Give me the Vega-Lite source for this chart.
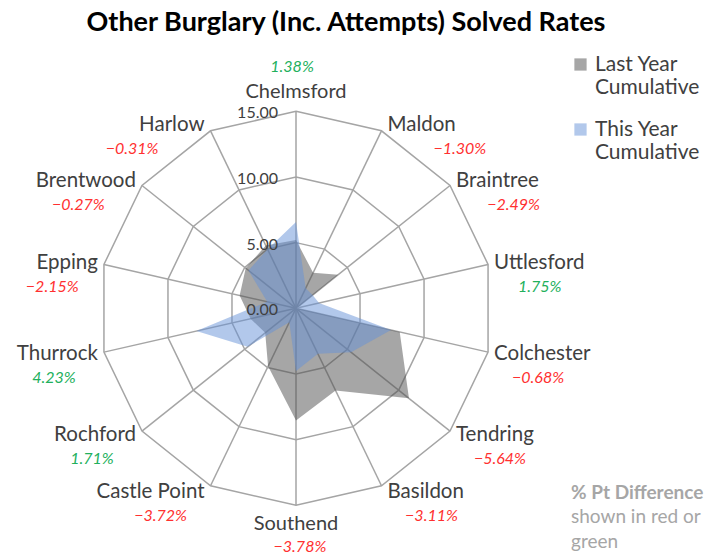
{
  "$schema": "https://vega.github.io/schema/vega-lite/v6.json",
  "width": 720,
  "height": 509,
  "autosize": {"type": "none"},
  "padding": {"top": 50, "left": 0, "right": 0, "bottom": 0},
  "background": "white",
  "config": {"view": {"stroke": null}, "font": "Lato"},
  "title": {"text": "Other Burglary (Inc. Attempts) Solved Rates", "fontSize": 27, "fontWeight": "bold", "font": "Lato", "color": "#000000", "anchor": "middle", "dx": -14, "offset": 13},
  "datasets": {
    "rates": [
      {"district": "Chelmsford", "Last Year Cumulative": 5.20, "This Year Cumulative": 6.58, "diff": 1.38},
      {"district": "Maldon", "Last Year Cumulative": 3.00, "This Year Cumulative": 1.70, "diff": -1.30},
      {"district": "Braintree", "Last Year Cumulative": 4.10, "This Year Cumulative": 1.61, "diff": -2.49},
      {"district": "Uttlesford", "Last Year Cumulative": 0.05, "This Year Cumulative": 1.80, "diff": 1.75},
      {"district": "Colchester", "Last Year Cumulative": 8.10, "This Year Cumulative": 7.42, "diff": -0.68},
      {"district": "Tendring", "Last Year Cumulative": 11.00, "This Year Cumulative": 5.36, "diff": -5.64},
      {"district": "Basildon", "Last Year Cumulative": 6.95, "This Year Cumulative": 3.84, "diff": -3.11},
      {"district": "Southend", "Last Year Cumulative": 8.55, "This Year Cumulative": 4.77, "diff": -3.78},
      {"district": "Castle Point", "Last Year Cumulative": 4.90, "This Year Cumulative": 1.18, "diff": -3.72},
      {"district": "Rochford", "Last Year Cumulative": 3.00, "This Year Cumulative": 4.71, "diff": 1.71},
      {"district": "Thurrock", "Last Year Cumulative": 3.55, "This Year Cumulative": 7.78, "diff": 4.23},
      {"district": "Epping", "Last Year Cumulative": 4.40, "This Year Cumulative": 2.25, "diff": -2.15},
      {"district": "Brentwood", "Last Year Cumulative": 4.90, "This Year Cumulative": 4.63, "diff": -0.27},
      {"district": "Harlow", "Last Year Cumulative": 5.30, "This Year Cumulative": 4.99, "diff": -0.31}
    ],
    "levels": [{"tick": 0}, {"tick": 5}, {"tick": 10}, {"tick": 15}]
  },
  "layer": [
    {
      "data": {"name": "rates"},
      "transform": [
        {"window": [{"op": "row_number", "as": "i"}]},
        {"calculate": "(datum.i - 1) * 2 * PI / 14", "as": "a"},
        {"calculate": "[5, 10, 15]", "as": "ring"},
        {"flatten": ["ring"]},
        {"calculate": "datum.ring * sin(datum.a)", "as": "gx"},
        {"calculate": "datum.ring * cos(datum.a)", "as": "gy"}
      ],
      "mark": {"type": "line", "interpolate": "linear-closed", "stroke": "#a5a5a5", "strokeWidth": 1.5},
      "encoding": {
        "x": {"field": "gx", "type": "quantitative", "scale": {"domain": [-22.539, 32.285], "nice": false, "zero": false}, "axis": null},
        "y": {"field": "gy", "type": "quantitative", "scale": {"domain": [-19.089, 19.668], "nice": false, "zero": false}, "axis": null},
        "detail": {"field": "ring", "type": "nominal"},
        "order": {"field": "i", "type": "quantitative"}
      }
    },
    {
      "data": {"name": "rates"},
      "transform": [
        {"window": [{"op": "row_number", "as": "i"}]},
        {"calculate": "(datum.i - 1) * 2 * PI / 14", "as": "a"},
        {"calculate": "0", "as": "zero"},
        {"calculate": "15 * sin(datum.a)", "as": "sx"},
        {"calculate": "15 * cos(datum.a)", "as": "sy"}
      ],
      "mark": {"type": "rule", "stroke": "#a5a5a5", "strokeWidth": 1.5},
      "encoding": {
        "x": {"field": "zero", "type": "quantitative"},
        "y": {"field": "zero", "type": "quantitative"},
        "x2": {"field": "sx"},
        "y2": {"field": "sy"}
      }
    },
    {
      "data": {"name": "rates"},
      "transform": [
        {"window": [{"op": "row_number", "as": "i"}]},
        {"calculate": "(datum.i - 1) * 2 * PI / 14", "as": "a"},
        {"fold": ["Last Year Cumulative", "This Year Cumulative"], "as": ["series", "rate"]},
        {"calculate": "datum.rate * sin(datum.a)", "as": "px"},
        {"calculate": "datum.rate * cos(datum.a)", "as": "py"}
      ],
      "mark": {"type": "line", "interpolate": "linear-closed", "filled": true, "strokeWidth": 0, "opacity": 1, "fillOpacity": 0.5},
      "encoding": {
        "x": {"field": "px", "type": "quantitative"},
        "y": {"field": "py", "type": "quantitative"},
        "order": {"field": "i", "type": "quantitative"},
        "color": {
          "field": "series", "type": "nominal",
          "scale": {"domain": ["Last Year Cumulative", "This Year Cumulative"], "range": ["#4d4d4d", "#6591d7"]},
          "legend": {"orient": "none", "legendX": 570, "legendY": 4, "title": null, "symbolType": "square", "symbolSize": 150, "symbolStrokeWidth": 0, "symbolOpacity": 0.5, "labelFontSize": 21, "labelFont": "Lato", "labelColor": "#404040", "labelLimit": 300, "rowPadding": 20, "labelExpr": "[substring(datum.label, 0, 9), substring(datum.label, 10)]"}
        }
      }
    },
    {
      "data": {"name": "levels"},
      "transform": [{"calculate": "0", "as": "zero"}],
      "mark": {"type": "text", "align": "right", "baseline": "middle", "dx": -18, "dy": 2, "fontSize": 16, "font": "Lato", "color": "#404040"},
      "encoding": {
        "x": {"field": "zero", "type": "quantitative"},
        "y": {"field": "tick", "type": "quantitative"},
        "text": {"field": "tick", "type": "quantitative", "format": ".2f"}
      }
    },
    {
      "data": {"name": "rates"},
      "transform": [
        {"window": [{"op": "row_number", "as": "i"}]},
        {"calculate": "(datum.i - 1) * 2 * PI / 14", "as": "a"},
        {"filter": "sin(datum.a) > 0.1"},
        {"calculate": "15 * sin(datum.a)", "as": "nx"},
        {"calculate": "15.53 * cos(datum.a)", "as": "ny"}
      ],
      "mark": {"type": "text", "align": "left", "baseline": "middle", "dx": 6, "fontSize": 20.5, "font": "Lato", "color": "#404040"},
      "encoding": {
        "x": {"field": "nx", "type": "quantitative"},
        "y": {"field": "ny", "type": "quantitative"},
        "text": {"field": "district", "type": "nominal"}
      }
    },
    {
      "data": {"name": "rates"},
      "transform": [
        {"window": [{"op": "row_number", "as": "i"}]},
        {"calculate": "(datum.i - 1) * 2 * PI / 14", "as": "a"},
        {"filter": "sin(datum.a) < -0.1"},
        {"calculate": "15 * sin(datum.a)", "as": "nx"},
        {"calculate": "15.53 * cos(datum.a)", "as": "ny"}
      ],
      "mark": {"type": "text", "align": "right", "baseline": "middle", "dx": -6, "fontSize": 20.5, "font": "Lato", "color": "#404040"},
      "encoding": {
        "x": {"field": "nx", "type": "quantitative"},
        "y": {"field": "ny", "type": "quantitative"},
        "text": {"field": "district", "type": "nominal"}
      }
    },
    {
      "data": {"name": "rates"},
      "transform": [
        {"window": [{"op": "row_number", "as": "i"}]},
        {"calculate": "(datum.i - 1) * 2 * PI / 14", "as": "a"},
        {"filter": "abs(sin(datum.a)) <= 0.1"},
        {"calculate": "0", "as": "nx"},
        {"calculate": "cos(datum.a) > 0 ? 16.45 : -16.4", "as": "ny"}
      ],
      "mark": {"type": "text", "align": "center", "baseline": "middle", "fontSize": 20, "font": "Lato", "color": "#404040"},
      "encoding": {
        "x": {"field": "nx", "type": "quantitative"},
        "y": {"field": "ny", "type": "quantitative"},
        "text": {"field": "district", "type": "nominal"}
      }
    },
    {
      "data": {"name": "rates"},
      "transform": [
        {"window": [{"op": "row_number", "as": "i"}]},
        {"calculate": "(datum.i - 1) * 2 * PI / 14", "as": "a"},
        {"calculate": "sin(datum.a)", "as": "s"},
        {"calculate": "cos(datum.a)", "as": "c"},
        {"calculate": "abs(datum.s) <= 0.1 ? -0.3 * datum.c : 15 * datum.s + (datum.s > 0 ? 1 : -1) * (50 + 35 * pow(max(0, datum.c), 2)) / 13.133", "as": "dxu"},
        {"calculate": "abs(datum.s) <= 0.1 ? (datum.c > 0 ? 18.4 : -18.2) : 15 * datum.c - (24 - 7 * datum.c) / 13.133", "as": "dyu"},
        {"calculate": "format(datum.diff, '.2f') + '%'", "as": "dtxt"},
        {"calculate": "datum.diff > 0 ? 'up' : 'down'", "as": "dir"}
      ],
      "mark": {"type": "text", "align": "center", "baseline": "middle", "fontSize": 16, "font": "Lato", "fontStyle": "italic"},
      "encoding": {
        "x": {"field": "dxu", "type": "quantitative"},
        "y": {"field": "dyu", "type": "quantitative"},
        "text": {"field": "dtxt", "type": "nominal"},
        "fill": {"field": "dir", "type": "nominal", "scale": {"domain": ["up", "down"], "range": ["#22b05c", "#ff3030"]}, "legend": null}
      }
    },
    {
      "data": {"values": [{"note": "% Pt Difference", "x": 20.94, "y": -14.06}]},
      "mark": {"type": "text", "align": "left", "baseline": "middle", "fontSize": 19, "font": "Lato", "fontWeight": "bold", "color": "#a6a6a6"},
      "encoding": {
        "x": {"field": "x", "type": "quantitative"},
        "y": {"field": "y", "type": "quantitative"},
        "text": {"field": "note", "type": "nominal"}
      }
    },
    {
      "data": {"values": [{"note": "shown in red or", "x": 20.94, "y": -15.89}, {"note": "green", "x": 20.94, "y": -17.79}]},
      "mark": {"type": "text", "align": "left", "baseline": "middle", "fontSize": 19, "font": "Lato", "color": "#a6a6a6"},
      "encoding": {
        "x": {"field": "x", "type": "quantitative"},
        "y": {"field": "y", "type": "quantitative"},
        "text": {"field": "note", "type": "nominal"}
      }
    }
  ]
}
